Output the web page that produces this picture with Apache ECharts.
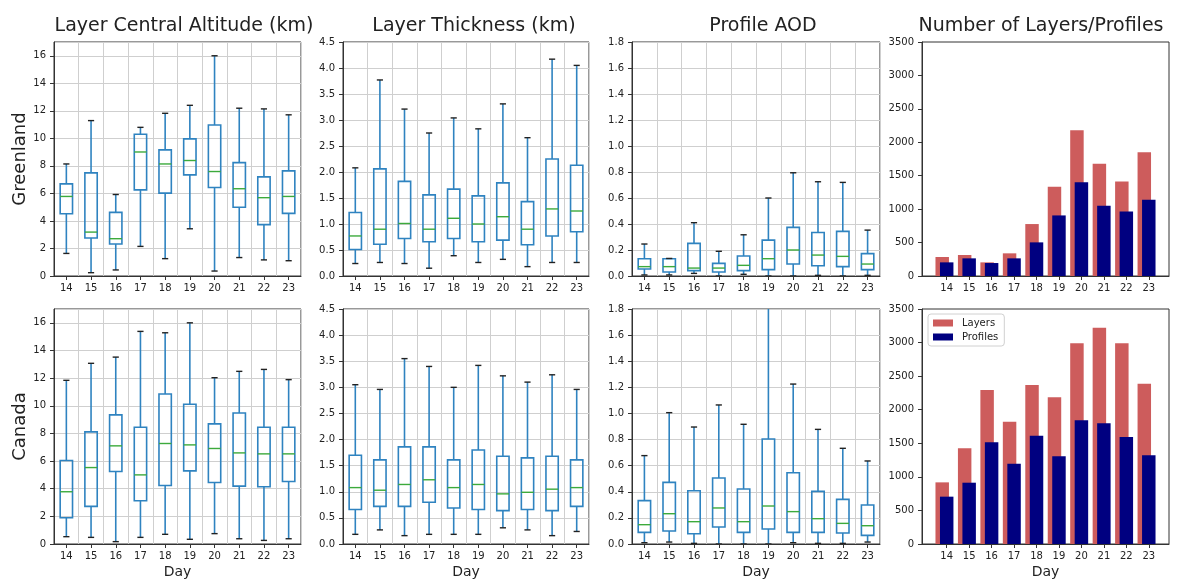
<!DOCTYPE html>
<html>
<head>
<meta charset="utf-8">
<script src="https://cdn.jsdelivr.net/npm/echarts@6/dist/echarts.min.js"></script>
<style>
  html, body { margin: 0; padding: 0; background: #fff; }
  #chart { width: 1178px; height: 586px; }
</style>
</head>
<body>
<div id="chart"></div>
<script>
// days on the x axis
const days = ['14', '15', '16', '17', '18', '19', '20', '21', '22', '23']

// box stats per day: [min, q1, median, q3, max]
const greenlandAltitude = [
  [1.64, 4.52, 5.78, 6.69, 8.14],
  [0.24, 2.76, 3.19, 7.49, 11.29],
  [0.44, 2.32, 2.71, 4.62, 5.92],
  [2.15, 6.26, 9.01, 10.3, 10.8],
  [1.26, 6.02, 8.14, 9.16, 11.82],
  [3.43, 7.35, 8.39, 9.96, 12.4],
  [0.36, 6.43, 7.59, 10.97, 16.0],
  [1.34, 4.99, 6.34, 8.24, 12.19],
  [1.17, 3.73, 5.69, 7.2, 12.14],
  [1.11, 4.55, 5.78, 7.64, 11.71]
]
const greenlandThickness = [
  [0.24, 0.51, 0.77, 1.22, 2.08],
  [0.26, 0.61, 0.9, 2.06, 3.77],
  [0.24, 0.72, 1.01, 1.82, 3.21],
  [0.15, 0.66, 0.9, 1.56, 2.75],
  [0.39, 0.72, 1.11, 1.67, 3.04],
  [0.26, 0.66, 1.0, 1.54, 2.83],
  [0.32, 0.69, 1.14, 1.79, 3.31],
  [0.18, 0.6, 0.9, 1.43, 2.66],
  [0.26, 0.77, 1.29, 2.25, 4.17],
  [0.26, 0.85, 1.25, 2.13, 4.05]
]
const greenlandAod = [
  [0.008, 0.054, 0.072, 0.133, 0.246],
  [0.008, 0.031, 0.072, 0.133, 0.135],
  [0.02, 0.041, 0.061, 0.251, 0.41],
  [0.0, 0.031, 0.061, 0.097, 0.19],
  [0.013, 0.041, 0.082, 0.154, 0.317],
  [0.0, 0.049, 0.133, 0.276, 0.6],
  [0.0, 0.092, 0.2, 0.374, 0.794],
  [0.005, 0.079, 0.161, 0.335, 0.725],
  [0.0, 0.072, 0.151, 0.343, 0.72],
  [0.005, 0.049, 0.092, 0.172, 0.353]
]
const canadaAltitude = [
  [0.53, 1.9, 3.78, 6.04, 11.84],
  [0.48, 2.72, 5.53, 8.11, 13.07],
  [0.17, 5.25, 7.1, 9.34, 13.52],
  [0.48, 3.13, 5.0, 8.45, 15.38],
  [0.7, 4.23, 7.27, 10.85, 15.28],
  [0.34, 5.29, 7.17, 10.11, 16.0],
  [0.75, 4.45, 6.91, 8.69, 12.03],
  [0.38, 4.19, 6.59, 9.48, 12.49],
  [0.26, 4.14, 6.52, 8.45, 12.63],
  [0.38, 4.52, 6.52, 8.45, 11.89]
]
const canadaThickness = [
  [0.185, 0.66, 1.08, 1.7, 3.05],
  [0.27, 0.72, 1.03, 1.61, 2.96],
  [0.16, 0.72, 1.14, 1.86, 3.55],
  [0.185, 0.8, 1.23, 1.86, 3.4],
  [0.185, 0.69, 1.08, 1.61, 3.0],
  [0.185, 0.66, 1.14, 1.8, 3.42],
  [0.31, 0.64, 0.96, 1.68, 3.22],
  [0.27, 0.66, 0.99, 1.65, 3.1],
  [0.16, 0.64, 1.05, 1.68, 3.24],
  [0.24, 0.72, 1.08, 1.61, 2.96]
]
const canadaAod = [
  [0.01, 0.089, 0.148, 0.332, 0.677],
  [0.015, 0.1, 0.232, 0.472, 1.006],
  [0.005, 0.079, 0.171, 0.408, 0.896],
  [0.0, 0.13, 0.276, 0.506, 1.065],
  [0.0, 0.089, 0.171, 0.421, 0.917],
  [0.0, 0.115, 0.291, 0.804, 1.9],
  [0.01, 0.089, 0.248, 0.546, 1.225],
  [0.005, 0.089, 0.194, 0.403, 0.878],
  [0.005, 0.084, 0.158, 0.342, 0.733],
  [0.015, 0.066, 0.14, 0.299, 0.636]
]

// counts per day
const greenlandLayers = [284, 314, 204, 339, 777, 1334, 2181, 1678, 1414, 1852]
const greenlandProfiles = [204, 264, 194, 264, 503, 906, 1404, 1050, 966, 1140]
const canadaLayers = [918, 1425, 2294, 1822, 2368, 2184, 2989, 3222, 2989, 2388]
const canadaProfiles = [705, 913, 1514, 1196, 1613, 1306, 1842, 1797, 1594, 1321]

// y tick values
const altitudeTicks = [0, 2, 4, 6, 8, 10, 12, 14, 16]
const thicknessTicks = [0, 0.5, 1, 1.5, 2, 2.5, 3, 3.5, 4, 4.5]
const aodTicks = [0, 0.2, 0.4, 0.6, 0.8, 1.0, 1.2, 1.4, 1.6, 1.8]
const countTicks = [0, 500, 1000, 1500, 2000, 2500, 3000, 3500]

const titles = ['Layer Central Altitude (km)', 'Layer Thickness (km)', 'Profile AOD', 'Number of Layers/Profiles']
const rows = ['Greenland', 'Canada']

const colLeft = [54, 343, 632, 922]
const colWidth = [247, 246, 248, 247]
const titleCenter = [179, 469, 758, 1036]
const rowTop = [42, 309]
const rowHeight = [234, 235]
const textColor = '#222'
const font = 'DejaVu Sans'

const chart = echarts.init(document.getElementById('chart'))

const grid = []
const xAxis = []
const yAxis = []
const series = []

const renderBox = (params, api) => {
  const i = api.value(0)
  const lo = api.coord([i, api.value(1)])
  const q1 = api.coord([i, api.value(2)])
  const md = api.coord([i, api.value(3)])
  const q3 = api.coord([i, api.value(4)])
  const hi = api.coord([i, api.value(5)])
  const band = api.size([1, 0])[0]
  const w = band * 0.5
  const c = band * 0.25
  const x = lo[0]
  const blue = { stroke: '#2f83c0', lineWidth: 1.6, fill: null }
  return {
    type: 'group',
    children: [
      { type: 'line', shape: { x1: x, y1: lo[1], x2: x, y2: q1[1] }, style: blue },
      { type: 'line', shape: { x1: x, y1: q3[1], x2: x, y2: hi[1] }, style: blue },
      { type: 'rect', shape: { x: x - w / 2, y: q3[1], width: w, height: q1[1] - q3[1] }, style: blue },
      { type: 'line', shape: { x1: x - w / 2, y1: md[1], x2: x + w / 2, y2: md[1] }, style: { stroke: '#3caa3c', lineWidth: 1.4 } },
      { type: 'line', shape: { x1: x - c / 2, y1: lo[1], x2: x + c / 2, y2: lo[1] }, style: { stroke: '#222', lineWidth: 1.4 } },
      { type: 'line', shape: { x1: x - c / 2, y1: hi[1], x2: x + c / 2, y2: hi[1] }, style: { stroke: '#222', lineWidth: 1.4 } }
    ]
  }
}

const makeBar = (offset, color) => (params, api) => {
  const d = api.value(0)
  const base = api.coord([d, 0])
  const top = api.coord([d, api.value(1)])
  const w = api.size([0.6, 0])[0]
  const dx = api.size([Math.abs(offset), 0])[0] * Math.sign(offset)
  return {
    type: 'rect',
    shape: { x: base[0] + dx - w / 2, y: top[1], width: w, height: base[1] - top[1] },
    style: { fill: color }
  }
}

const tickLabel = (digits) => (v) => v.toFixed(digits)

const panels = [
  [greenlandAltitude, altitudeTicks, 17, 0],
  [greenlandThickness, thicknessTicks, 4.5, 1],
  [greenlandAod, aodTicks, 1.8, 1],
  [[greenlandLayers, greenlandProfiles], countTicks, 3500, 0],
  [canadaAltitude, altitudeTicks, 17, 0],
  [canadaThickness, thicknessTicks, 4.5, 1],
  [canadaAod, aodTicks, 1.8, 1],
  [[canadaLayers, canadaProfiles], countTicks, 3500, 0]
]

panels.forEach(([data, ticks, max, digits], k) => {
  const r = Math.floor(k / 4)
  const c = k % 4
  const isBar = c === 3
  grid.push({
    left: colLeft[c], top: rowTop[r], width: colWidth[c], height: rowHeight[r],
    show: true, borderColor: '#333', borderWidth: 1, backgroundColor: '#fff'
  })
  const axisLine = { show: true, onZero: false, lineStyle: { color: '#333', width: 1 } }
  const labelStyle = { color: textColor, fontFamily: font, fontSize: 10 }
  const xName = r === 1 ? 'Day' : ''
  if (isBar) {
    xAxis.push({
      type: 'value', gridIndex: k, min: 12.9, max: 23.9,
      axisLine,
      axisTick: { show: true, length: 4, lineStyle: { color: '#333' }, customValues: days.map(Number) },
      axisLabel: { ...labelStyle, margin: 7, customValues: days.map(Number) },
      splitLine: { show: false },
      name: xName, nameLocation: 'middle', nameGap: 21,
      nameTextStyle: { color: textColor, fontFamily: font, fontSize: 14 }
    })
  } else {
    xAxis.push({
      type: 'category', gridIndex: k, data: days, boundaryGap: true,
      axisLine,
      axisTick: { show: true, length: 4, alignWithLabel: true, lineStyle: { color: '#333' } },
      axisLabel: { ...labelStyle, margin: 7, interval: 0 },
      splitLine: { show: true, interval: 0, lineStyle: { color: '#cfcfcf', width: 1 } },
      name: xName, nameLocation: 'middle', nameGap: 21,
      nameTextStyle: { color: textColor, fontFamily: font, fontSize: 14 }
    })
  }
  yAxis.push({
    type: 'value', gridIndex: k, min: ticks[0], max, interval: ticks[1] - ticks[0],
    axisLine,
    axisTick: { show: true, length: 4, lineStyle: { color: '#333' } },
    axisLabel: { ...labelStyle, margin: 8, showMaxLabel: max === ticks[ticks.length - 1], formatter: tickLabel(digits) },
    splitLine: { show: !isBar, lineStyle: { color: '#cfcfcf', width: 1 } },
    name: c === 0 ? rows[r] : '', nameLocation: 'middle', nameGap: 25, nameRotate: 90,
    nameTextStyle: { color: textColor, fontFamily: font, fontSize: 18 }
  })
  if (isBar) {
    const [layers, profiles] = data
    series.push({
      name: 'Layers', type: 'custom', xAxisIndex: k, yAxisIndex: k,
      itemStyle: { color: '#cd5c5c' },
      renderItem: makeBar(-0.2, '#cd5c5c'),
      data: layers.map((v, i) => [Number(days[i]), v]),
      encode: { x: 0, y: 1 }
    })
    series.push({
      name: 'Profiles', type: 'custom', xAxisIndex: k, yAxisIndex: k,
      itemStyle: { color: '#000080' },
      renderItem: makeBar(0, '#000080'),
      data: profiles.map((v, i) => [Number(days[i]), v]),
      encode: { x: 0, y: 1 }
    })
  } else {
    series.push({
      type: 'custom', xAxisIndex: k, yAxisIndex: k, clip: true,
      renderItem: renderBox,
      data: data.map((s, i) => [i, ...s]),
      encode: { x: 0, y: [1, 2, 3, 4, 5] }
    })
  }
})

const option = {
  animation: false,
  backgroundColor: '#fff',
  title: titles.map((t, c) => ({
    text: t,
    left: titleCenter[c],
    top: 12,
    textAlign: 'center',
    textStyle: { color: textColor, fontFamily: font, fontSize: 19, fontWeight: 'normal' }
  })),
  legend: {
    data: ['Layers', 'Profiles'],
    orient: 'vertical',
    left: 928, top: 314,
    itemWidth: 20, itemHeight: 7, itemGap: 4,
    icon: 'rect',
    padding: [4, 6, 4, 5],
    borderColor: '#d0d0d0', borderWidth: 1, borderRadius: 3,
    backgroundColor: '#fff',
    textStyle: { color: textColor, fontFamily: font, fontSize: 10, padding: [0, 0, 0, 4] }
  },
  grid,
  xAxis,
  yAxis,
  series
}

chart.setOption(option)
</script>
</body>
</html>
